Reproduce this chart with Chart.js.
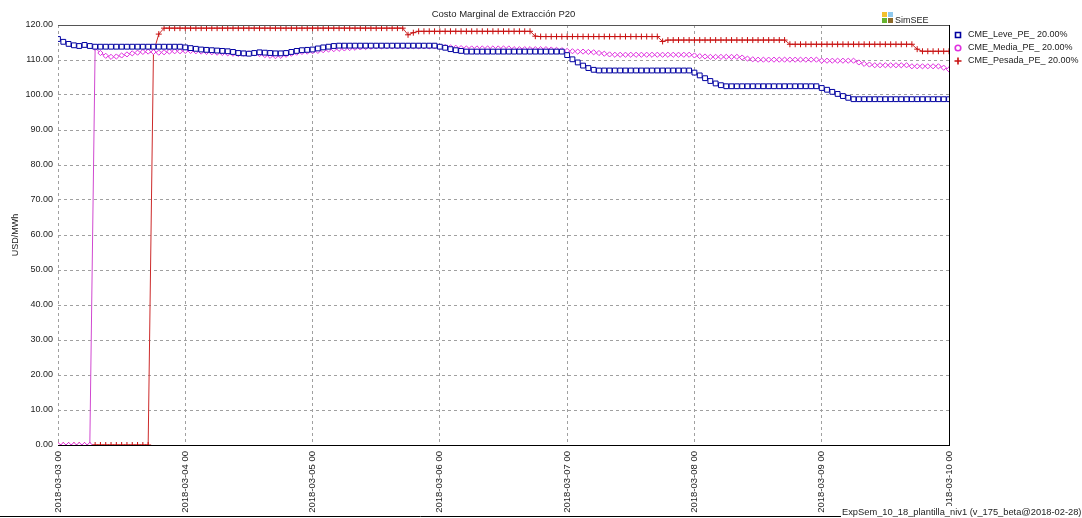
<!DOCTYPE html>
<html>
<head>
<meta charset="utf-8">
<title>Costo Marginal de Extracción P20</title>
<script src="https://cdn.jsdelivr.net/npm/chart.js@4.4.0/dist/chart.umd.min.js"></script>
<style>
  html, body { margin: 0; padding: 0; background: #fff; }
  canvas { display: block; }
</style>
</head>
<body>
<canvas id="cmeChart" width="1082" height="518"></canvas>
<script>
const chartTitle = 'Costo Marginal de Extracción P20';
const yAxisTitle = 'USD/MWh';
const footerText = 'ExpSem_10_18_plantilla_niv1 (v_175_beta@2018-02-28)';
const seriesNames = ['CME_Leve_PE_ 20.00%', 'CME_Media_PE_ 20.00%', 'CME_Pesada_PE_ 20.00%'];
const xTickLabels = ['2018-03-03 00', '2018-03-04 00', '2018-03-05 00', '2018-03-06 00',
                     '2018-03-07 00', '2018-03-08 00', '2018-03-09 00', '2018-03-10 00'];

// hourly values, index = hours since 2018-03-03 00
const cmeLeve = [
  116.0, 115.2, 114.6, 114.2, 114.0, 114.3, 114.0, 113.8, 113.8, 113.8, 113.8, 113.8,
  113.8, 113.8, 113.8, 113.8, 113.8, 113.8, 113.8, 113.8, 113.8, 113.8, 113.8, 113.8,
  113.6, 113.4, 113.2, 113.0, 112.9, 112.8, 112.7, 112.6, 112.5, 112.3, 112.0, 111.9,
  111.8, 112.0, 112.2, 112.1, 112.0, 111.9, 111.9, 112.0, 112.3, 112.6, 112.8, 112.9,
  113.0, 113.3, 113.6, 113.8, 114.0, 114.1, 114.1, 114.1, 114.1, 114.1, 114.1, 114.1,
  114.1, 114.1, 114.1, 114.1, 114.1, 114.1, 114.1, 114.1, 114.1, 114.1, 114.1, 114.1,
  113.8, 113.5, 113.1, 112.8, 112.6, 112.4, 112.4, 112.4, 112.4, 112.4, 112.4, 112.4,
  112.4, 112.4, 112.4, 112.4, 112.4, 112.4, 112.4, 112.4, 112.4, 112.4, 112.4, 112.4,
  111.4, 110.2, 109.3, 108.4, 107.7, 107.2, 107.0, 107.0, 107.0, 107.0, 107.0, 107.0,
  107.0, 107.0, 107.0, 107.0, 107.0, 107.0, 107.0, 107.0, 107.0, 107.0, 107.0, 107.0,
  106.4, 105.6, 104.8, 104.0, 103.3, 102.8, 102.5, 102.5, 102.5, 102.5, 102.5, 102.5,
  102.5, 102.5, 102.5, 102.5, 102.5, 102.5, 102.5, 102.5, 102.5, 102.5, 102.5, 102.5,
  102.0, 101.5, 100.9, 100.3, 99.7, 99.2, 98.8, 98.8, 98.8, 98.8, 98.8, 98.8,
  98.8, 98.8, 98.8, 98.8, 98.8, 98.8, 98.8, 98.8, 98.8, 98.8, 98.8, 98.8,
  98.8
];
const cmeMedia = [
  0, 0, 0, 0, 0, 0, 0, 113.5, 112.0, 111.2, 110.9, 111.0,
  111.3, 111.6, 111.9, 112.1, 112.3, 112.4, 112.3, 112.1, 112.2, 112.4, 112.5, 112.5,
  112.6, 112.6, 112.5, 112.4, 112.3, 112.2, 112.1, 112.0, 111.9, 111.8, 111.7, 111.8,
  111.9, 111.9, 111.7, 111.4, 111.2, 111.1, 111.2, 111.5, 111.8, 112.1, 112.3, 112.4,
  112.5, 112.6, 112.8, 113.0, 113.1, 113.2, 113.3, 113.4, 113.5, 113.6, 113.7, 113.8,
  113.9, 113.9, 113.9, 113.9, 113.9, 113.9, 113.9, 113.9, 113.9, 113.9, 113.9, 113.9,
  113.8, 113.7, 113.6, 113.5, 113.4, 113.3, 113.3, 113.3, 113.3, 113.3, 113.3, 113.3,
  113.3, 113.3, 113.1, 113.1, 113.1, 113.1, 113.1, 113.1, 113.1, 113.0, 112.9, 112.8,
  112.6, 112.5, 112.4, 112.4, 112.3, 112.2, 112.0, 111.8, 111.6, 111.5, 111.5, 111.5,
  111.5, 111.5, 111.5, 111.5, 111.5, 111.5, 111.5, 111.5, 111.5, 111.5, 111.5, 111.5,
  111.3, 111.1, 111.0, 110.9, 110.9, 110.9, 110.9, 110.9, 110.9, 110.7, 110.4, 110.2,
  110.1, 110.1, 110.1, 110.1, 110.1, 110.1, 110.1, 110.1, 110.1, 110.1, 110.1, 110.1,
  109.8, 109.8, 109.8, 109.8, 109.8, 109.8, 109.8, 109.3, 108.9, 108.7, 108.5, 108.5,
  108.5, 108.5, 108.5, 108.5, 108.5, 108.2, 108.2, 108.2, 108.2, 108.2, 108.2, 107.8,
  107.3
];
const cmePesada = [
  0, 0, 0, 0, 0, 0, 0, 0, 0, 0, 0, 0,
  0, 0, 0, 0, 0, 0, 112.2, 117.4, 119.1, 119.1, 119.1, 119.1,
  119.1, 119.1, 119.1, 119.1, 119.1, 119.1, 119.1, 119.1, 119.1, 119.1, 119.1, 119.1,
  119.1, 119.1, 119.1, 119.1, 119.1, 119.1, 119.1, 119.1, 119.1, 119.1, 119.1, 119.1,
  119.1, 119.1, 119.1, 119.1, 119.1, 119.1, 119.1, 119.1, 119.1, 119.1, 119.1, 119.1,
  119.1, 119.1, 119.1, 119.1, 119.1, 119.1, 117.2, 117.8, 118.2, 118.2, 118.2, 118.2,
  118.2, 118.2, 118.2, 118.2, 118.2, 118.2, 118.2, 118.2, 118.2, 118.2, 118.2, 118.2,
  118.2, 118.2, 118.2, 118.2, 118.2, 118.2, 116.8, 116.7, 116.7, 116.7, 116.7, 116.7,
  116.7, 116.7, 116.7, 116.7, 116.7, 116.7, 116.7, 116.7, 116.7, 116.7, 116.7, 116.7,
  116.7, 116.7, 116.7, 116.7, 116.7, 116.7, 115.3, 115.7, 115.7, 115.7, 115.7, 115.7,
  115.7, 115.7, 115.7, 115.7, 115.7, 115.7, 115.7, 115.7, 115.7, 115.7, 115.7, 115.7,
  115.7, 115.7, 115.7, 115.7, 115.7, 115.7, 114.5, 114.5, 114.5, 114.5, 114.5, 114.5,
  114.5, 114.5, 114.5, 114.5, 114.5, 114.5, 114.5, 114.5, 114.5, 114.5, 114.5, 114.5,
  114.5, 114.5, 114.5, 114.5, 114.5, 114.5, 113.1, 112.5, 112.5, 112.5, 112.5, 112.5,
  112.5
];

const FONT = 'Liberation Sans, Arial, sans-serif';
const TEXT_COLOR = '#222';

const seriesStyles = [
  { line: '#2a2ab8', point: '#0000a0', style: 'rect', radius: 3.4 },
  { line: '#d048d0', point: '#e030e0', style: 'rectRot', radius: 2.6 },
  { line: '#cc2a2a', point: '#c81010', style: 'cross', radius: 3 }
];

function toPoints(values) {
  return values.map((v, i) => ({ x: i, y: v }));
}

// frame, logo, legend and footer drawn on top of the chart
const decorPlugin = {
  id: 'decor',
  afterDraw(chart) {
    const ctx = chart.ctx;
    const area = chart.chartArea;
    ctx.save();

    // top and right frame lines
    ctx.lineWidth = 1;
    ctx.strokeStyle = '#555';
    ctx.beginPath();
    ctx.moveTo(area.left, Math.round(area.top) + 0.5);
    ctx.lineTo(area.right + 1, Math.round(area.top) + 0.5);
    ctx.stroke();
    ctx.strokeStyle = '#000';
    ctx.beginPath();
    ctx.moveTo(Math.round(area.right) + 0.5, area.top);
    ctx.lineTo(Math.round(area.right) + 0.5, area.bottom + 1);
    ctx.stroke();

    // SimSEE logo
    ctx.fillStyle = '#f2c12e'; ctx.fillRect(882, 12, 5, 5);
    ctx.fillStyle = '#8fc9ee'; ctx.fillRect(888, 12, 5, 5);
    ctx.fillStyle = '#66b32e'; ctx.fillRect(882, 18, 5, 5);
    ctx.fillStyle = '#8d6a2a'; ctx.fillRect(888, 18, 5, 5);
    ctx.fillStyle = TEXT_COLOR;
    ctx.font = '9px ' + FONT;
    ctx.textAlign = 'left';
    ctx.textBaseline = 'alphabetic';
    ctx.fillText('SimSEE', 895, 23);

    // legend
    ctx.textBaseline = 'middle';
    seriesNames.forEach((name, i) => {
      const y = 35 + i * 13;
      const s = seriesStyles[i];
      ctx.strokeStyle = s.point;
      ctx.lineWidth = 1.6;
      ctx.beginPath();
      if (s.style === 'rect') {
        ctx.rect(955.5, y - 2.5, 5, 5);
      } else if (s.style === 'rectRot') {
        ctx.arc(958, y, 2.8, 0, Math.PI * 2);
      } else {
        ctx.moveTo(954.5, y); ctx.lineTo(961.5, y);
        ctx.moveTo(958, y - 3.5); ctx.lineTo(958, y + 3.5);
      }
      ctx.stroke();
      ctx.fillStyle = TEXT_COLOR;
      ctx.fillText(name, 968, y);
    });

    // footer
    ctx.fillStyle = '#fff';
    ctx.fillRect(841, 506, 241, 12);
    ctx.strokeStyle = '#000';
    ctx.lineWidth = 1;
    ctx.beginPath();
    ctx.moveTo(0, 516.5);
    ctx.lineTo(841, 516.5);
    ctx.stroke();
    ctx.fillStyle = TEXT_COLOR;
    ctx.font = '9.3px ' + FONT;
    ctx.textBaseline = 'alphabetic';
    ctx.fillText(footerText, 842, 515);

    ctx.restore();
  }
};

const ctx = document.getElementById('cmeChart');
new Chart(ctx, {
  type: 'line',
  data: {
    datasets: [cmeLeve, cmeMedia, cmePesada].map((values, i) => ({
      label: seriesNames[i],
      data: toPoints(values),
      borderColor: seriesStyles[i].line,
      borderWidth: 1,
      pointStyle: seriesStyles[i].style,
      pointRadius: seriesStyles[i].radius,
      pointBorderColor: seriesStyles[i].point,
      pointBackgroundColor: '#ffffff',
      pointBorderWidth: 1,
      tension: 0,
      fill: false,
      clip: 0
    }))
  },
  options: {
    responsive: false,
    animation: false,
    events: [],
    layout: { padding: { left: 0, right: 133, top: 0, bottom: 0 } },
    scales: {
      x: {
        type: 'linear',
        min: 0,
        max: 168,
        afterFit: (scale) => { scale.height = 73; },
        grid: { color: '#a0a0a0', drawTicks: false },
        border: { display: true, color: '#000', width: 1, dash: [3, 3] },
        ticks: {
          stepSize: 24,
          autoSkip: false,
          minRotation: 90,
          maxRotation: 90,
          padding: 6,
          color: TEXT_COLOR,
          font: { family: FONT, size: 9.5 },
          callback: (v) => xTickLabels[v / 24] || ''
        }
      },
      y: {
        min: 0,
        max: 120,
        afterFit: (scale) => { scale.width = 58; },
        grid: { color: '#a0a0a0', drawTicks: false },
        border: { display: false, dash: [3, 3] },
        ticks: {
          stepSize: 10,
          padding: 5,
          color: TEXT_COLOR,
          font: { family: FONT, size: 9 },
          callback: (v) => v.toFixed(2)
        },
        title: {
          display: true,
          text: yAxisTitle,
          color: TEXT_COLOR,
          padding: { top: 10, bottom: 0 },
          font: { family: FONT, size: 9 }
        }
      }
    },
    plugins: {
      legend: { display: false },
      tooltip: { enabled: false },
      title: {
        display: true,
        text: chartTitle,
        fullSize: false,
        color: TEXT_COLOR,
        padding: { top: 9, bottom: 4.6 },
        font: { family: FONT, size: 9.5, weight: 'normal' }
      }
    }
  },
  plugins: [decorPlugin]
});
</script>
</body>
</html>
